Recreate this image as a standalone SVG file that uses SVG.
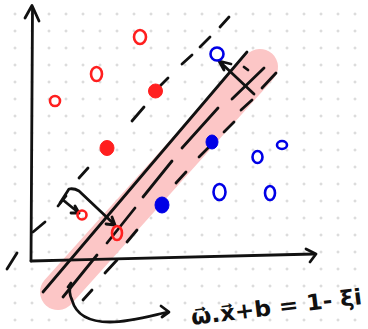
<svg xmlns="http://www.w3.org/2000/svg" width="368" height="329" viewBox="0 0 368 329">
<defs>
<pattern id="grid" x="6.5" y="5.5" width="17" height="17" patternUnits="userSpaceOnUse">
<path d="M7,8.5 H10 M8.5,7 V10" stroke="#c8c8c8" stroke-width="0.8" fill="none"/>
</pattern>
<style>
.ink{fill:none;stroke:#111;stroke-width:2.8;stroke-linecap:round;stroke-linejoin:round}
.r{fill:none;stroke:#ff1f1f;stroke-width:2.6}
.rf{fill:#ff1f1f;stroke:#ff1f1f;stroke-width:1}
.b{fill:none;stroke:#0000e6;stroke-width:2.6}
.bf{fill:#0000e6;stroke:#0000e6;stroke-width:1}
.lbl{font-family:"DejaVu Sans","Liberation Sans",sans-serif;font-size:22px;font-weight:bold;fill:#111}
</style>
</defs>
<rect width="368" height="329" fill="#fff"/>
<rect width="368" height="329" fill="url(#grid)"/>

<g id="band">
<line x1="58" y1="292" x2="260" y2="67" stroke="#fcc6c6" stroke-width="36" stroke-linecap="round"/>
</g>

<g id="axes">
<path class="ink" d="M32.5,8 L31,261"/>
<path class="ink" d="M25,18 L32,5.5 L39,21"/>
<path class="ink" d="M31,261 C120,259 200,256 314,254"/>
<path class="ink" d="M306,249 L316,254 L310,262"/>
</g>

<g id="connectors">
<g id="upper-margin">
<path class="ink" d="M7,269 L17,253 M33,232 L45,222 M79,178 L88,168 M132,121 L144,107 M160,86 L168,78 M182,64 L192,55 M200,47 L210,37 M220,27 L229,17"/>
</g>
<g id="solid-line">
<path class="ink" d="M43,292 L150,166 L247,52"/>
</g>
<g id="middle-line">
<path class="ink" d="M63,297 L97,255 M107,243 L135,208 M143,197 L172,161 M182,148 L218,108 M232,99 L264,68"/>
</g>
<g id="lower-line">
<path class="ink" d="M83,300 L92,290 M105,273 L117,260 M127,242 L137,230 M176,183 L186,172 M199,157 L208,148 M224,132 L234,122 M241,110 L252,100 M262,88 L276,73"/>
</g>
<g id="arrow-a">
<path class="ink" d="M58,206 L66,196 M63,200 L79,213 M71,213 L79,213 L75,206"/>
</g>
<g id="arrow-b">
<path class="ink" d="M60,203 L69,189 Q74,188 79,191 L115,225 M106,224 L115,225 L112,217"/>
</g>
<g id="arrow-top">
<path class="ink" d="M254,94 L219,61 M231,64 L219,61 L224,70 M244,67 L248,70"/>
</g>
<g id="arrow-curve">
<path class="ink" d="M68,287 L71,283 Q68,292 72,300 C76,315 90,322 110,322 C130,322 150,316 168,312 M161,306 L169,312 L162,317"/>
</g>
</g>

<g id="red-points">
<ellipse class="r" cx="140" cy="37" rx="6" ry="7"/>
<ellipse class="r" cx="96.5" cy="74" rx="5.5" ry="7"/>
<ellipse class="r" cx="55" cy="101" rx="5" ry="5"/>
<circle class="rf" cx="155.5" cy="91" r="7"/>
<ellipse class="rf" cx="107" cy="148" rx="7" ry="7.5"/>
<ellipse class="r" cx="82" cy="215" rx="4.5" ry="4.5"/>
<ellipse class="r" cx="117" cy="233" rx="5" ry="7"/>
</g>

<g id="blue-points">
<circle class="b" cx="217" cy="54" r="6.5"/>
<ellipse class="bf" cx="212" cy="142" rx="6" ry="7"/>
<ellipse class="bf" cx="162" cy="205" rx="7" ry="8"/>
<ellipse class="b" cx="257.5" cy="157" rx="5" ry="6"/>
<ellipse class="b" cx="282" cy="145" rx="5" ry="4"/>
<ellipse class="b" cx="219.5" cy="192" rx="6" ry="8"/>
<ellipse class="b" cx="270" cy="193" rx="5" ry="7"/>
</g>

<g id="equation">
<text class="lbl" x="192" y="325" transform="rotate(-7 192 325)" textLength="172" lengthAdjust="spacingAndGlyphs">ω⃗.x⃗+b = 1- ξi</text>
</g>
</svg>
